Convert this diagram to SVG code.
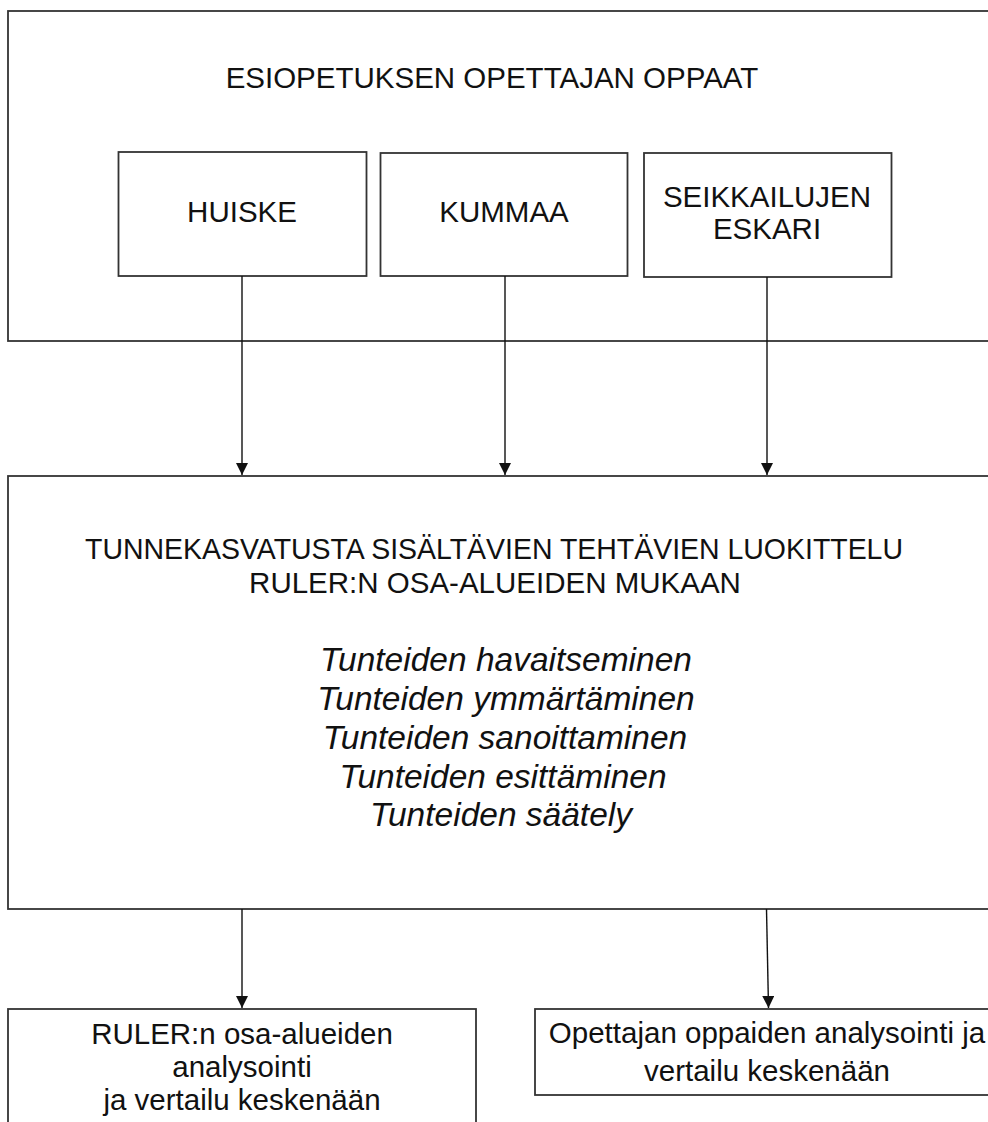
<svg xmlns="http://www.w3.org/2000/svg" width="988" height="1122" viewBox="0 0 988 1122">
  <defs>
    <marker id="arrow" markerUnits="userSpaceOnUse" markerWidth="12" markerHeight="12" refX="12" refY="6" orient="auto">
      <path d="M0,0 L12,6 L0,12 z" fill="#111"/>
    </marker>
    <style>
      .box { fill: #fff; stroke: #333; stroke-width: 1.8; }
      .t { font-family: "Liberation Sans", Arial, sans-serif; font-size: 29.5px; fill: #111; text-anchor: middle; }
      .it { font-family: "Liberation Sans", Arial, sans-serif; font-size: 33.5px; font-style: italic; fill: #111; text-anchor: middle; }
      .conn { stroke: #111; stroke-width: 1.4; fill: none; marker-end: url(#arrow); }
    </style>
  </defs>
  <rect width="988" height="1122" fill="#fff"/>

  <g id="oppaat">
    <rect class="box" x="8" y="11" width="990" height="330"/>
    <text class="t" x="492" y="88">ESIOPETUKSEN OPETTAJAN OPPAAT</text>
  </g>

  <g id="huiske">
    <rect class="box" x="118.5" y="152" width="248" height="124"/>
    <text class="t" x="242" y="222">HUISKE</text>
  </g>

  <g id="kummaa">
    <rect class="box" x="380.5" y="153" width="247" height="123"/>
    <text class="t" x="504" y="222">KUMMAA</text>
  </g>

  <g id="seikkailujen">
    <rect class="box" x="644" y="153" width="247.5" height="124"/>
    <text class="t" x="767" y="207">SEIKKAILUJEN</text>
    <text class="t" x="767" y="239">ESKARI</text>
  </g>

  <g id="luokittelu">
    <rect class="box" x="8" y="476" width="990" height="433"/>
    <text class="t" x="494" y="559" textLength="818" lengthAdjust="spacingAndGlyphs">TUNNEKASVATUSTA SISÄLTÄVIEN TEHTÄVIEN LUOKITTELU</text>
    <text class="t" x="495" y="593">RULER:N OSA-ALUEIDEN MUKAAN</text>
    <text class="it" x="506" y="671">Tunteiden havaitseminen</text>
    <text class="it" x="506" y="710">Tunteiden ymmärtäminen</text>
    <text class="it" x="505" y="749">Tunteiden sanoittaminen</text>
    <text class="it" x="503" y="788">Tunteiden esittäminen</text>
    <text class="it" x="501" y="826">Tunteiden säätely</text>
  </g>

  <g id="ruler-analyysi">
    <rect class="box" x="8" y="1009" width="468" height="130"/>
    <text class="t" x="242" y="1044">RULER:n osa-alueiden</text>
    <text class="t" x="242" y="1077">analysointi</text>
    <text class="t" x="242" y="1110">ja vertailu keskenään</text>
  </g>

  <g id="oppaat-analyysi">
    <rect class="box" x="535" y="1009" width="463" height="86"/>
    <text class="t" x="767" y="1043">Opettajan oppaiden analysointi ja</text>
    <text class="t" x="767" y="1081">vertailu keskenään</text>
  </g>

  <g id="connectors">
    <line class="conn" x1="242" y1="276" x2="242" y2="475"/>
    <line class="conn" x1="505" y1="276" x2="505" y2="475"/>
    <line class="conn" x1="767" y1="277" x2="767" y2="475"/>
    <line class="conn" x1="242" y1="909" x2="242" y2="1008"/>
    <line class="conn" x1="766.5" y1="909" x2="768.5" y2="1008"/>
  </g>
</svg>
